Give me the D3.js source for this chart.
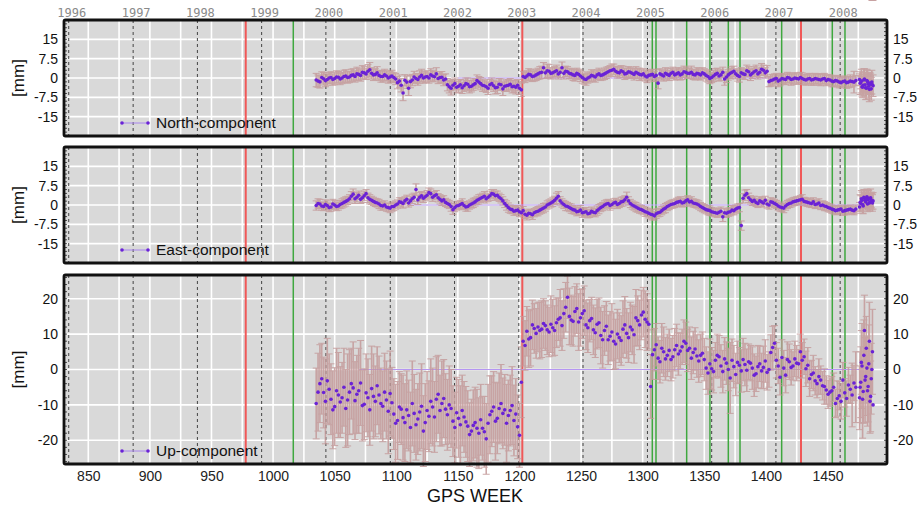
<!DOCTYPE html>
<html><head><meta charset="utf-8">
<script src="https://cdn.jsdelivr.net/npm/d3@7"></script>
<style>body{margin:0;background:#fff}svg{display:block}</style>
</head><body><svg id="c" width="922" height="508"></svg>
<script>
// ---------- DATA ----------
// sample set A
const weeks = [1035,1038,1041,1044,1047,1050,1053,1056,1059,1062,1065,1068,1071,1074,1077,1080,1083,1086,1089,1092,1095,1098,1101,1104,1107,1110,1113,1116,1119,1122,1125,1128,1131,1134,1137,1140,1143,1146,1149,1152,1155,1158,1161,1164,1167,1170,1173,1176,1179,1182,1185,1188,1191,1194,1197,1200,1203,1206,1209,1212,1215,1218,1221,1224,1227,1230,1233,1236,1239,1242,1245,1248,1251,1254,1257,1260,1263,1266,1269,1272,1275,1278,1281,1284,1287,1290,1293,1296,1299,1302,1305,1308,1311,1314,1317,1320,1323,1326,1329,1332,1335,1338,1341,1344,1347,1350,1353,1356,1359,1362,1365,1368,1371,1374,1377,1380,1383,1386,1389,1392,1395,1398,1401,1404,1407,1410,1413,1416,1419,1422,1425,1428,1431,1434,1437,1440,1443,1446,1449,1452,1455,1458,1461,1464,1467,1470,1473,1476,1477,1478,1479,1480,1481,1482,1483,1484,1485,1486,1487];

const north = [-0.8,-1.5,-0.3,-0.6,0.2,-0.2,0.3,0.0,0.8,0.4,1.2,1.6,1.0,2.0,2.6,1.8,1.4,1.0,0.6,0.8,0.4,0.2,-1.8,-2.8,-0.9,-4.0,-0.8,-0.2,0.4,0.0,0.6,1.2,0.5,-0.2,0.3,-0.4,-3.4,-2.8,-3.6,-2.6,-3.0,-2.4,-3.2,-2.2,-1.6,-2.8,-3.4,-2.6,-3.0,-3.6,-2.6,-3.2,-2.8,-3.4,-3.6,-4.0,0.6,0.8,1.2,0.8,1.6,2.2,2.0,2.6,2.0,2.8,2.2,1.8,2.4,1.6,1.0,1.4,0.2,-0.6,0.4,0.8,1.2,1.0,1.6,2.4,3.0,2.6,2.0,2.4,1.8,2.2,1.4,1.8,1.2,0.8,1.0,1.4,1.0,1.6,0.8,1.4,1.8,1.2,2.0,1.6,2.2,1.8,1.4,1.8,1.2,1.6,0.6,0.2,1.4,0.8,2.2,0.4,1.8,2.6,1.0,2.0,1.4,2.4,1.8,2.8,2.2,3.0,2.6,-1.0,-0.4,-1.2,-0.2,-0.6,0.0,-0.4,-0.2,0.2,-0.6,-0.4,-0.8,-0.2,-0.6,-0.4,-1.0,-0.8,-1.4,-1.2,-1.8,-1.2,-1.6,-1.4,-1.0,-0.6,-1.8,-3.4,-2.8,-0.4,-3.8,-1.0,-2.2,-4.4,-2.4,-1.6,-3.0];
const northErr = [2.6,2.4,2.4,2.2,2.2,2.4,2.2,2.2,2.4,2.2,2.4,2.6,2.2,2.4,2.6,2.2,2.2,2.0,2.2,2.0,2.2,2.0,2.4,2.6,2.2,2.8,2.2,2.0,2.4,2.0,2.2,2.4,2.0,2.0,2.2,2.0,2.4,2.2,2.2,2.0,2.2,2.4,2.2,2.0,2.2,2.4,2.2,2.0,2.2,2.4,2.2,2.0,2.2,2.4,2.6,2.4,2.0,2.0,2.2,2.0,2.2,2.4,2.2,2.6,2.0,2.2,2.0,2.2,2.0,2.0,2.2,2.0,2.2,2.2,2.0,2.2,2.0,2.0,2.2,2.0,2.4,2.0,2.0,2.2,2.0,2.0,2.2,2.0,2.0,2.0,2.2,2.0,2.2,2.0,2.0,2.2,2.0,2.0,2.0,2.2,2.0,2.0,2.0,2.2,2.0,2.0,2.2,2.0,2.2,2.0,2.0,2.2,2.0,2.0,2.2,2.0,2.0,2.0,2.0,2.2,2.0,2.0,2.2,2.2,2.0,2.2,2.0,2.0,2.0,2.0,2.2,2.0,2.0,2.0,2.0,2.0,2.2,2.0,2.0,2.0,2.0,2.2,2.0,2.0,2.2,2.0,2.0,2.2,2.4,3.6,4.2,4.0,4.6,4.4,4.2,4.8,4.0,4.6,4.2,4.4,4.0];

const east = [-0.2,0.4,-0.6,-0.2,-0.8,0.0,-0.4,0.6,1.4,2.4,4.2,3.0,2.2,3.6,2.8,1.8,1.0,0.4,-0.4,-0.8,-1.2,-0.6,0.4,1.0,1.6,0.8,2.4,6.0,3.0,2.6,3.8,4.4,3.6,2.8,1.6,1.0,0.2,-1.8,-0.4,0.2,-0.2,-0.6,0.4,1.2,2.2,3.0,2.4,3.6,4.2,3.8,2.4,0.6,-1.0,-1.8,-2.2,-2.6,-2.2,-4.0,-3.4,-3.0,-2.4,-1.6,-0.8,0.4,1.2,2.6,1.6,0.2,-0.6,-1.4,-2.0,-2.4,-3.0,-2.6,-3.2,-2.8,-2.2,-1.0,0.0,0.6,0.2,1.0,0.6,1.4,3.0,0.6,-0.4,-1.2,-1.8,-2.6,-3.2,-3.8,-3.4,-2.8,-1.6,-0.6,0.2,0.6,1.2,0.8,1.6,1.2,0.8,0.4,-0.6,-1.4,-2.0,-2.6,-3.0,-2.8,-4.6,-3.2,-2.6,-2.2,-1.2,-8.0,3.8,2.8,1.4,1.0,1.6,0.8,0.4,1.2,0.6,-0.4,-1.0,-0.4,0.6,1.2,1.6,2.0,1.4,1.0,0.6,0.2,0.8,0.0,-0.6,-1.2,-1.8,-2.0,-1.6,-2.2,-1.8,-2.0,-1.6,-0.8,0.6,1.8,-0.4,2.6,1.2,3.2,2.0,0.8,2.8,1.4,1.6];
const eastErr = [1.8,1.8,1.6,1.8,1.6,1.8,1.6,1.8,1.8,1.6,2.0,1.8,1.6,1.8,1.8,1.6,1.6,1.8,1.6,1.6,1.8,1.6,1.6,1.8,1.6,1.6,1.8,2.2,1.8,1.6,1.8,1.8,1.6,1.6,1.8,1.6,1.6,1.8,1.6,1.6,1.6,1.8,1.6,1.6,1.8,1.6,1.6,1.8,1.8,1.6,1.6,1.6,1.8,1.6,1.6,1.8,1.6,1.8,1.6,1.6,1.8,1.6,1.6,1.6,1.8,2.0,1.6,1.6,1.6,1.8,1.6,1.6,1.8,1.6,1.6,1.6,1.8,1.6,1.6,1.6,1.6,1.6,1.6,1.8,2.0,1.6,1.6,1.6,1.6,1.8,1.8,2.0,1.8,1.6,1.6,1.6,1.6,1.6,1.8,1.6,1.6,1.6,1.6,1.6,1.6,1.6,1.8,1.6,1.6,1.6,1.8,1.6,1.6,1.6,1.6,1.8,2.0,1.8,1.6,1.6,1.6,1.6,1.6,1.6,1.6,1.6,1.6,1.6,1.6,1.6,1.6,1.6,1.6,1.6,1.6,1.6,1.6,1.6,1.6,1.6,1.6,1.6,1.6,1.6,1.6,1.6,1.6,1.8,3.0,3.2,3.0,3.4,3.2,3.0,3.6,3.2,3.4,3.0,3.2];

const up = [-9.6,-4.0,-6.5,-3.2,-8.4,-10.5,-7.2,-8.0,-11.0,-6.4,-5.2,-7.0,-3.8,-9.8,-8.0,-5.4,-9.0,-7.2,-10.4,-8.6,-6.8,-12.6,-14.4,-11.2,-15.0,-13.0,-9.6,-15.6,-12.0,-17.4,-11.6,-9.0,-13.4,-7.0,-9.6,-11.2,-10.0,-14.6,-12.2,-15.6,-13.4,-16.0,-17.4,-15.0,-18.0,-16.6,-19.6,-12.8,-10.6,-13.8,-9.6,-11.4,-13.0,-10.2,-12.6,-18.6,8.0,10.8,9.0,11.6,12.0,11.4,12.4,10.6,11.8,13.2,14.6,15.8,20.4,14.0,16.4,13.4,15.8,12.6,13.8,11.2,12.8,9.6,11.0,8.4,10.6,7.2,9.0,11.4,10.2,12.0,9.8,13.8,15.4,14.2,12.8,4.2,7.0,2.2,5.0,4.0,2.8,5.6,4.4,6.4,7.4,6.0,4.8,3.8,4.0,2.8,-1.0,0.2,2.6,3.6,-0.6,1.8,-2.4,0.8,2.0,-0.4,1.4,2.2,0.4,-1.2,1.6,0.6,-0.8,4.8,7.4,1.0,3.4,-1.6,2.2,1.0,1.8,5.0,3.6,1.2,-1.4,-3.2,-2.0,-4.6,-5.8,-6.4,-5.0,-8.2,-9.0,-6.6,-4.4,-7.2,-5.0,-8.0,-3.6,1.0,-6.2,11.0,-2.0,0.4,-4.8,8.0,-7.6,0.0,-10.0];
const upErr = [10,11,10,12,10,11,12,10,11,12,13,11,12,10,11,12,10,11,10,11,12,10,11,10,11,10,12,10,11,10,11,12,10,11,12,10,11,10,10,11,10,10,9,10,10,9,10,11,10,10,11,10,10,11,10,9,7,7,8,7,7,8,7,7,8,7,8,7,6,7,7,8,7,7,6,7,7,8,7,7,8,7,7,8,7,7,8,7,7,8,7,7,6,6,7,6,6,6,6,5,6,6,6,6,6,6,6,6,5,6,6,6,10,6,6,6,6,5,6,5,5,6,5,5,5,5,5,5,5,4,5,5,5,5,4,4,5,4,4,4,4,5,5,4,5,9,10,9,10,12,9,10,11,9,10,11,10];

// sample set B (the solutions between the A samples)
const weeksB = [1036.5,1039.5,1042.5,1045.5,1048.5,1051.5,1054.5,1057.5,1060.5,1063.5,1066.5,1069.5,1072.5,1075.5,1078.5,1081.5,1084.5,1087.5,1090.5,1093.5,1096.5,1099.5,1102.5,1105.5,1108.5,1111.5,1114.5,1117.5,1120.5,1123.5,1126.5,1129.5,1132.5,1135.5,1138.5,1141.5,1144.5,1147.5,1150.5,1153.5,1156.5,1159.5,1162.5,1165.5,1168.5,1171.5,1174.5,1177.5,1180.5,1183.5,1186.5,1189.5,1192.5,1195.5,1198.5,1201.5,1204.5,1207.5,1210.5,1213.5,1216.5,1219.5,1222.5,1225.5,1228.5,1231.5,1234.5,1237.5,1240.5,1243.5,1246.5,1249.5,1252.5,1255.5,1258.5,1261.5,1264.5,1267.5,1270.5,1273.5,1276.5,1279.5,1282.5,1285.5,1288.5,1291.5,1294.5,1297.5,1300.5,1303.5,1306.5,1309.5,1312.5,1315.5,1318.5,1321.5,1324.5,1327.5,1330.5,1333.5,1336.5,1339.5,1342.5,1345.5,1348.5,1351.5,1354.5,1357.5,1360.5,1363.5,1366.5,1369.5,1372.5,1375.5,1378.5,1381.5,1384.5,1387.5,1390.5,1393.5,1396.5,1399.5,1402.5,1405.5,1408.5,1411.5,1414.5,1417.5,1420.5,1423.5,1426.5,1429.5,1432.5,1435.5,1438.5,1441.5,1444.5,1447.5,1450.5,1453.5,1456.5,1459.5,1462.5,1465.5,1468.5,1471.5,1476.5,1477.5,1478.5,1479.5,1480.5,1481.5,1482.5,1483.5,1484.5,1485.5,1486.5];

const northB = [-1.2,0.2,-1.0,0.0,-0.6,0.4,-0.4,0.6,0.2,1.0,0.6,1.4,2.2,1.6,3.2,1.2,2.0,0.6,1.2,0.0,0.8,-0.4,-1.2,-5.8,-1.6,-1.4,0.4,-0.6,1.0,0.4,0.0,0.8,1.6,0.2,-0.8,-2.6,-4.0,-2.2,-3.2,-3.8,-2.2,-3.4,-2.6,-1.0,-2.2,-3.0,-4.0,-2.2,-3.8,-2.4,-4.2,-3.0,-2.4,-3.2,-2.8,-4.6,0.2,1.4,0.6,1.2,2.0,4.0,2.8,1.8,2.4,1.6,4.0,2.6,1.8,1.2,1.8,0.8,-0.4,0.0,1.0,0.4,1.6,1.2,2.0,2.8,3.4,2.2,2.8,1.6,2.4,1.8,2.2,1.4,1.6,0.4,1.2,0.6,-2.0,1.2,1.8,1.0,2.2,1.6,1.2,2.4,1.8,2.2,1.2,1.6,2.0,1.0,-0.2,0.8,1.8,1.2,-0.4,1.2,2.2,1.6,0.6,1.6,2.8,1.2,2.4,1.6,3.4,2.0,-1.4,-0.8,-0.2,-0.8,-0.4,0.2,-0.6,0.0,-0.4,-0.2,-0.8,-0.2,-0.6,-0.4,-0.8,-0.2,-0.6,-1.2,-1.0,-1.6,-1.4,-1.8,-1.2,-1.6,-2.0,-1.2,-3.6,-0.8,-2.6,-4.0,-1.4,-3.2,-2.0,-4.2,-2.6];
const northErrB = [2.4,2.2,2.4,2.2,2.2,2.4,2.2,2.4,2.2,2.4,2.2,2.4,2.6,2.2,2.8,2.2,2.4,2.2,2.2,2.0,2.2,2.2,2.4,3.0,2.4,2.4,2.2,2.2,2.4,2.2,2.0,2.2,2.4,2.2,2.2,2.4,2.6,2.2,2.4,2.2,2.2,2.4,2.2,2.2,2.4,2.2,2.4,2.2,2.4,2.2,2.6,2.2,2.2,2.4,2.2,2.6,2.0,2.2,2.0,2.2,2.4,2.0,2.6,2.2,2.0,2.0,2.2,2.0,2.0,2.2,2.0,2.2,2.0,2.0,2.2,2.0,2.2,2.0,2.2,2.0,2.0,2.2,2.0,2.2,2.0,2.0,2.2,2.4,2.0,2.2,2.0,2.0,2.2,2.0,2.2,2.0,2.0,2.2,2.0,2.2,2.0,2.4,2.0,2.2,2.0,2.2,2.0,2.2,2.0,2.2,2.4,2.0,2.2,2.0,2.2,2.0,2.2,2.2,2.0,2.0,2.2,2.0,2.0,2.2,2.0,2.2,2.0,2.0,2.2,2.0,2.0,2.2,2.0,2.0,2.2,2.0,2.2,2.0,2.0,2.2,2.0,2.2,2.0,2.2,2.4,4.2,4.4,4.6,4.0,4.4,4.8,4.2,4.4,4.6,4.2,4.4];

const eastB = [0.6,-0.4,0.2,-1.0,0.4,-0.6,0.2,1.0,1.8,3.4,2.4,3.8,2.8,4.4,2.2,1.4,0.8,-0.2,0.0,-1.0,-0.6,0.0,1.2,0.6,2.2,1.6,3.0,2.0,3.6,3.2,4.8,3.0,4.0,2.2,2.0,0.6,-0.6,-1.0,-0.2,0.6,-0.8,0.0,0.8,1.8,2.6,3.4,3.0,4.4,3.6,3.0,1.6,-0.2,-1.6,-2.4,-2.0,-3.0,-3.6,-3.2,-3.8,-2.6,-2.0,-1.2,0.0,0.8,1.8,3.4,0.8,-0.4,-1.0,-1.8,-2.6,-2.0,-2.8,-3.4,-2.4,-3.0,-1.6,-0.6,0.4,-0.2,0.8,0.2,1.2,2.0,1.6,0.0,-0.8,-1.6,-2.2,-2.8,-3.6,-4.2,-3.0,-2.2,-1.2,-0.2,0.4,1.0,1.4,1.0,2.0,1.4,0.6,0.0,-1.0,-1.8,-2.2,-2.8,-3.2,-2.4,-3.0,-2.8,-2.0,-1.6,-1.0,2.6,4.4,2.0,1.8,0.6,1.2,1.8,0.0,1.0,0.2,-0.8,-1.2,0.2,0.8,1.4,1.8,2.2,1.2,0.8,1.2,0.4,-0.2,-0.4,-1.0,-1.6,-2.2,-1.8,-2.4,-2.0,-1.6,-2.2,1.0,2.4,0.2,3.0,1.8,2.2,0.4,2.6,1.0,2.0,0.8];
const eastErrB = [1.8,1.6,1.8,1.6,1.8,1.6,1.6,1.8,1.6,1.8,1.8,1.6,1.8,1.6,1.8,1.6,1.6,1.8,1.6,1.6,1.8,1.6,1.6,1.8,1.6,1.8,1.6,1.8,1.6,1.6,1.8,1.6,1.6,1.8,1.6,1.6,1.8,1.6,1.6,1.8,1.6,1.6,1.8,1.6,1.6,1.8,1.6,1.6,1.8,1.6,1.6,1.8,1.6,1.6,1.8,1.6,1.6,1.6,1.8,1.6,1.6,1.8,1.6,1.6,1.6,1.8,1.6,1.8,1.6,1.6,1.6,1.8,1.6,1.6,1.6,1.6,1.8,1.6,1.6,1.8,1.6,1.6,1.8,1.6,1.6,1.6,1.8,1.6,1.6,1.6,1.8,1.6,1.6,1.6,1.8,1.6,1.6,1.6,1.8,1.6,1.6,1.8,1.6,1.6,1.6,1.6,1.8,1.6,1.6,1.6,1.6,1.6,1.8,1.6,1.6,1.8,1.6,1.6,1.6,1.6,1.8,1.6,1.6,1.6,1.6,1.6,1.8,1.6,1.6,1.6,1.6,1.8,1.6,1.6,1.6,1.6,1.6,1.8,1.6,1.6,1.6,1.6,1.6,1.8,1.6,1.6,3.0,3.2,3.4,3.0,3.2,3.6,3.0,3.2,3.4,3.0,3.2];

const upB = [-6.4,-2.6,-9.0,-5.6,-11.4,-6.0,-9.2,-5.0,-8.6,-4.0,-8.8,-6.0,-10.2,-6.6,-11.4,-7.6,-4.6,-9.6,-6.4,-11.8,-9.4,-15.2,-10.6,-13.6,-11.4,-16.4,-12.4,-14.0,-10.4,-15.0,-13.2,-10.6,-8.4,-11.6,-8.2,-12.8,-11.0,-16.4,-13.8,-11.6,-14.8,-18.4,-15.8,-16.6,-14.2,-17.6,-15.2,-11.8,-14.6,-11.0,-12.4,-15.2,-11.6,-14.4,-16.2,-3.6,6.8,8.6,12.6,10.2,11.0,13.0,11.2,12.8,11.0,14.2,12.4,17.6,15.0,13.6,17.2,14.6,16.6,11.8,14.4,10.4,13.2,8.4,12.2,9.4,8.0,10.0,8.2,12.6,9.0,11.2,14.6,12.6,16.2,13.4,-4.8,5.6,3.2,6.0,3.0,5.4,3.6,6.8,5.2,8.0,5.4,3.2,5.8,2.4,4.6,0.4,1.6,-0.6,4.0,1.0,3.0,0.0,2.6,-1.4,1.2,2.8,-0.2,1.8,-1.6,0.8,-0.4,2.4,0.0,6.2,2.6,-2.2,0.4,2.8,0.6,3.0,1.6,2.6,0.2,-2.6,-1.0,-4.0,-3.0,-4.8,-7.0,-6.0,-9.6,-7.4,-3.0,-8.2,-5.6,-3.8,-5.0,2.0,-8.4,4.0,-3.0,6.0,-6.0,1.6,-9.0,-2.6,5.0];
const upErrB = [11,10,12,10,11,12,10,11,13,10,11,12,10,11,10,12,11,10,11,12,10,11,10,12,11,10,11,10,12,11,10,11,12,10,11,10,11,10,11,10,10,9,10,11,10,10,11,10,11,10,10,11,10,10,9,10,7,8,7,7,8,7,7,8,7,6,7,7,8,7,7,8,7,7,6,7,7,8,7,7,8,7,7,8,7,7,8,7,7,8,9,6,6,7,6,6,6,6,5,6,6,6,6,6,6,6,7,6,6,6,6,6,6,6,5,6,6,5,6,6,5,6,5,6,5,5,5,5,5,5,4,5,5,5,5,4,4,5,4,4,4,4,5,5,4,5,10,9,11,10,12,9,10,11,9,10,12];

const northTicks = [-15,-7.5,0,7.5,15];
const eastTicks  = [-15,-7.5,0,7.5,15];
const upTicks    = [-20,-10,0,10,20];
const xTicks = [850,900,950,1000,1050,1100,1150,1200,1250,1300,1350,1400,1450];
const yearLabels = ["1996","1997","1998","1999","2000","2001","2002","2003","2004","2005","2006","2007","2008"];
const yearWeeks  = [834.14,886.43,938.57,990.71,1042.86,1095.14,1147.29,1199.43,1251.57,1303.86,1356,1408.14,1460.29];
const redWeeks   = [977.8,1202.3,1428.5];
const greenWeeks = [1016.4,1307.8,1310.8,1335.7,1354.6,1369.5,1379,1412.8,1453.9,1464.2];

// ---------- LAYOUT ----------
const svg = d3.select("#c");
const X0 = 64, X1 = 887;
const x = d3.scaleLinear().domain([830.3, 1498.3]).range([X0, X1]);
const gridX = d3.range(850, 1490, 25);

const panels = [
  {name:"North-component", vals:north, err:northErr, valsB:northB, errB:northErrB, ticks:northTicks, top:20, bot:136, lim:22.5, minor:1.5, zeroFrom:1150, zeroTo:1476},
  {name:"East-component",  vals:east,  err:eastErr,  valsB:eastB,  errB:eastErrB,  ticks:eastTicks,  top:147, bot:263, lim:22.5, minor:1.5, zeroFrom:1110, zeroTo:1476},
  {name:"Up-component",    vals:up,    err:upErr,    valsB:upB,    errB:upErrB,    ticks:upTicks,    top:275, bot:464, lim:26.7, minor:2, zeroFrom:1070, zeroTo:1476}
];

const FONT = "'Liberation Sans', Arial, Helvetica, sans-serif";
const PURPLE = "#6a22d6";
const ERRC = "#c49a9a";

panels.forEach((p, pi) => {
  const y = d3.scaleLinear().domain([-p.lim, p.lim]).range([p.bot, p.top]);
  const g = svg.append("g");
  g.append("rect").attr("x", X0).attr("y", p.top).attr("width", X1 - X0).attr("height", p.bot - p.top).attr("fill", "#d9d9d9");
  g.selectAll(".gx").data(gridX).join("line")
    .attr("x1", d => x(d)).attr("x2", d => x(d)).attr("y1", p.top).attr("y2", p.bot)
    .attr("stroke", "#fff").attr("stroke-width", 1.6);
  g.selectAll(".gy").data(p.ticks).join("line")
    .attr("x1", X0).attr("x2", X1).attr("y1", d => y(d)).attr("y2", d => y(d))
    .attr("stroke", "#fff").attr("stroke-width", 1.6);
  g.selectAll(".yr").data(yearWeeks).join("line")
    .attr("x1", d => x(d)).attr("x2", d => x(d)).attr("y1", p.top).attr("y2", p.bot)
    .attr("stroke", "#444").attr("stroke-width", 1).attr("stroke-dasharray", "3,3");
  g.selectAll(".gr").data(greenWeeks).join("line")
    .attr("x1", d => x(d)).attr("x2", d => x(d)).attr("y1", p.top).attr("y2", p.bot)
    .attr("stroke", "#3fa83f").attr("stroke-width", 1.5);
  g.selectAll(".rd").data(redWeeks).join("line")
    .attr("x1", d => x(d)).attr("x2", d => x(d)).attr("y1", p.top).attr("y2", p.bot)
    .attr("stroke", "#f05858").attr("stroke-width", 2);
  g.append("line").attr("x1", x(p.zeroFrom)).attr("x2", x(p.zeroTo)).attr("y1", y(0)).attr("y2", y(0))
    .attr("stroke", "#b596f2").attr("stroke-width", 1);
  // error bars
  const data = weeks.map((w, i) => ({w, v: p.vals[i], e: p.err[i]}))
    .concat(weeksB.map((w, i) => ({w, v: p.valsB[i], e: p.errB[i]})));
  const eb = g.append("g").attr("stroke", ERRC).attr("opacity", 0.85);
  eb.selectAll(".ev").data(data).join("line").attr("stroke-width", 1.6)
    .attr("x1", d => x(d.w)).attr("x2", d => x(d.w)).attr("y1", d => y(d.v - d.e)).attr("y2", d => y(d.v + d.e));
  eb.selectAll(".ct").data(data).join("line").attr("stroke-width", 1)
    .attr("x1", d => x(d.w) - 3.5).attr("x2", d => x(d.w) + 3.5).attr("y1", d => y(d.v + d.e)).attr("y2", d => y(d.v + d.e));
  eb.selectAll(".cb").data(data).join("line").attr("stroke-width", 1)
    .attr("x1", d => x(d.w) - 3.5).attr("x2", d => x(d.w) + 3.5).attr("y1", d => y(d.v - d.e)).attr("y2", d => y(d.v - d.e));
  g.selectAll(".pt").data(data).join("circle")
    .attr("cx", d => x(d.w)).attr("cy", d => y(d.v)).attr("r", 1.8).attr("fill", PURPLE);
  // minor ticks on left/right borders
  const minor = d3.range(-Math.floor(p.lim / p.minor) * p.minor, p.lim + 0.001, p.minor);
  g.selectAll(".ml").data(minor).join("line")
    .attr("x1", X0).attr("x2", X0 + 3).attr("y1", d => y(d)).attr("y2", d => y(d)).attr("stroke", "#222").attr("stroke-width", 0.8);
  g.selectAll(".mr").data(minor).join("line")
    .attr("x1", X1 - 3).attr("x2", X1).attr("y1", d => y(d)).attr("y2", d => y(d)).attr("stroke", "#222").attr("stroke-width", 0.8);
  g.append("rect").attr("x", X0).attr("y", p.top).attr("width", X1 - X0).attr("height", p.bot - p.top)
    .attr("fill", "none").attr("stroke", "#111").attr("stroke-width", 2.8).attr("rx", 1.5);
  const la = d3.axisLeft(y).tickValues(p.ticks).tickSize(0).tickPadding(6).tickFormat(d => d);
  const ra = d3.axisRight(y).tickValues(p.ticks).tickSize(0).tickPadding(6).tickFormat(d => d);
  const lg = g.append("g").attr("transform", `translate(${X0},0)`).call(la);
  const rg = g.append("g").attr("transform", `translate(${X1},0)`).call(ra);
  [lg, rg].forEach(a => {
    a.select(".domain").remove();
    a.selectAll("text").attr("font-family", FONT).attr("font-size", 14).attr("fill", "#111");
  });
  g.append("text").attr("transform", `translate(24,${(p.top + p.bot) / 2}) rotate(-90)`)
    .attr("text-anchor", "middle").attr("font-family", FONT).attr("font-size", 17).attr("fill", "#111").text("[mm]");
  const ly = p.bot - 13;
  g.append("line").attr("x1", 122).attr("x2", 148).attr("y1", ly).attr("y2", ly).attr("stroke", "#a884ee").attr("stroke-width", 1);
  g.selectAll(".ld").data([122, 148]).join("circle").attr("cx", d => d).attr("cy", ly).attr("r", 1.8).attr("fill", PURPLE);
  g.append("text").attr("x", 156).attr("y", ly).attr("dy", "0.35em").attr("font-family", FONT).attr("font-size", 15.5)
    .attr("fill", "#111").text(p.name);

  if (pi === 2) {
    const xa = d3.axisBottom(x).tickValues(xTicks).tickSize(0).tickPadding(6).tickFormat(d3.format("d"));
    const xg = g.append("g").attr("transform", `translate(0,${p.bot + 1})`).call(xa);
    xg.select(".domain").remove();
    xg.selectAll("text").attr("font-family", FONT).attr("font-size", 14).attr("fill", "#222");
  }
});

svg.selectAll(".yl").data(yearWeeks).join("text")
  .attr("x", d => x(d) + 3).attr("y", 13).attr("dy", "0.35em").attr("text-anchor", "middle")
  .attr("font-family", "'DejaVu Sans Mono', monospace").attr("font-size", 12).attr("fill", "#8a8a8a")
  .text((d, i) => yearLabels[i]);

svg.append("text").attr("x", 475).attr("y", 496).attr("dy", "0.35em").attr("text-anchor", "middle")
  .attr("font-family", FONT).attr("font-size", 18).attr("fill", "#111").text("GPS WEEK");
</script></body></html>
